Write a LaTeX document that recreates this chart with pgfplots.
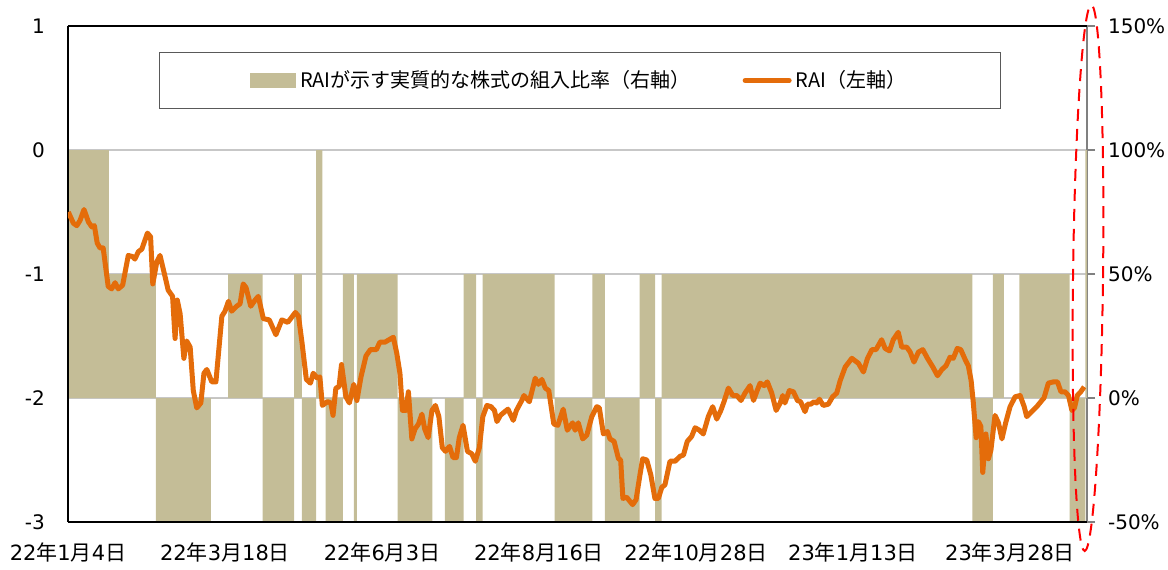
\documentclass[border=0pt]{standalone}
\usepackage{pgfplots}
\pgfplotsset{compat=1.18}
\usepackage{fontspec}
\setmainfont{DejaVu Sans}
\newfontfamily\cjk{Noto Sans CJK JP}
\definecolor{tanc}{RGB}{196,189,151}
\definecolor{rai}{RGB}{228,108,10}
\newcommand{\J}[1]{{\cjk #1}}
\begin{document}
\begin{tikzpicture}
% ---------- right axis: stock allocation (bars) ----------
\begin{axis}[
  scale only axis, width=509.5pt, height=248pt,
  xmin=0, xmax=324.5, ymin=-50, ymax=150,
  hide x axis,
  axis y line*=right,
  y axis line style={draw=black!50, line width=0.8pt},
  ytick={-50,0,50,100,150},
  yticklabels={-50\%,0\%,50\%,100\%,150\%},
  tick align=outside, major tick length=4pt,
  ytick style={draw=black!50, line width=0.8pt},
  ymajorgrids, grid style={draw=black!22, line width=1pt},
  yticklabel style={font=\fontsize{10}{12}\selectfont, xshift=3pt},
]
\addplot[const plot mark left, fill=tanc, draw=none] table[row sep=\\] {
x y\\
0 100\\ 13 50\\ 28 -50\\ 45.5 0\\ 51 50\\ 62 -50\\ 72 50\\ 74.5 -50\\
79 100\\ 81 0\\ 82 -50\\ 87.5 50\\ 91 -50\\ 92 50\\ 105 -50\\ 116 0\\
120 -50\\ 126 50\\ 130 -50\\ 132 50\\ 155 -50\\ 167 50\\ 171 -50\\ 182 50\\
187 -50\\ 189 50\\ 288 -50\\ 294.5 50\\ 298 0\\ 303 50\\ 319 -50\\ 324 100\\
324.5 100\\
} \closedcycle;
\end{axis}
% ---------- left axis: RAI (line) ----------
\begin{axis}[
  scale only axis, width=509.5pt, height=248pt,
  xmin=0, xmax=324.5, ymin=-3, ymax=1,
  axis x line*=box, axis y line*=left,
  axis line style={line width=1pt, black},
  xtick={0,50,100,150,200,250,300},
  xticklabels={22\J{年}1\J{月}4\J{日},22\J{年}3\J{月}18\J{日},22\J{年}6\J{月}3\J{日},22\J{年}8\J{月}16\J{日},22\J{年}10\J{月}28\J{日},23\J{年}1\J{月}13\J{日},23\J{年}3\J{月}28\J{日}},
  ytick={-3,-2,-1,0,1},
  yticklabels={-3,-2,-1,0,1},
  major tick length=0pt,
  xticklabel style={font=\fontsize{10.5}{12}\selectfont, yshift=-7pt},
  yticklabel style={font=\fontsize{10}{12}\selectfont, xshift=-8pt},
  legend columns=2,
  legend cell align=left,
  legend style={at={(rel axis cs:0.5025,0.89)}, anchor=center,
    draw=black!65, line width=0.6pt, inner xsep=45pt, inner ysep=7pt,
    font=\cjk\fontsize{10}{11}\selectfont,
    /tikz/every even column/.append style={column sep=24pt}},
]
\addlegendimage{legend image code/.code={\fill[tanc] (0pt,-3.5pt) rectangle (22.5pt,3.5pt);}}
\addlegendentry{RAIが示す実質的な株式の組入比率（右軸）}
\addplot[rai, line width=2.5pt, line join=round,
  legend image code/.code={\draw[rai, line width=2.5pt, line cap=round] (0pt,0pt) -- (22pt,0pt);}]
  table[row sep=\\] {
x y\\
0.1 -0.50\\ 1.7 -0.59\\ 2.8 -0.61\\ 3.8 -0.57\\ 5.1 -0.48\\ 6.5 -0.58\\ 7.6 -0.62\\ 8.4 -0.61\\
9.3 -0.75\\ 10.2 -0.79\\ 11.2 -0.79\\ 12.8 -1.10\\ 13.9 -1.12\\ 15.0 -1.07\\ 16.0 -1.12\\ 17.4 -1.09\\
19.2 -0.85\\ 20.6 -0.86\\ 21.3 -0.88\\ 22.4 -0.82\\ 23.5 -0.80\\ 25.3 -0.67\\ 26.3 -0.70\\ 27.0 -1.08\\
28.3 -0.90\\ 29.3 -0.85\\ 30.9 -1.02\\ 31.9 -1.13\\ 33.3 -1.18\\ 34.1 -1.52\\ 34.8 -1.21\\ 35.7 -1.32\\
36.9 -1.68\\ 37.8 -1.54\\ 38.9 -1.59\\ 39.9 -1.94\\ 41.0 -2.08\\ 42.3 -2.04\\ 43.3 -1.80\\ 44.2 -1.77\\
45.8 -1.87\\ 47.1 -1.87\\ 49.0 -1.34\\ 50.0 -1.30\\ 51.1 -1.22\\ 52.1 -1.30\\ 53.7 -1.26\\ 54.8 -1.24\\
55.8 -1.08\\ 56.7 -1.11\\ 58.2 -1.26\\ 59.6 -1.21\\ 60.6 -1.18\\ 62.2 -1.36\\ 64.1 -1.37\\ 66.2 -1.49\\
68.1 -1.37\\ 70.0 -1.39\\ 72.4 -1.31\\ 73.4 -1.34\\ 74.5 -1.55\\ 75.9 -1.85\\ 77.2 -1.88\\ 78.1 -1.80\\
79.4 -1.84\\ 80.2 -1.83\\ 81.0 -2.06\\ 82.6 -2.03\\ 83.7 -2.04\\ 84.4 -2.14\\ 85.3 -1.92\\ 86.3 -1.91\\
87.1 -1.73\\ 88.5 -1.99\\ 89.6 -2.04\\ 91.0 -1.89\\ 92.0 -2.02\\ 93.3 -1.83\\ 94.9 -1.66\\ 96.3 -1.61\\
98.2 -1.61\\ 99.3 -1.55\\ 100.9 -1.55\\ 103.6 -1.51\\ 104.7 -1.64\\ 105.7 -1.80\\ 106.5 -2.10\\ 107.6 -2.10\\
108.4 -1.95\\ 109.5 -2.33\\ 110.5 -2.25\\ 111.6 -2.21\\ 112.7 -2.13\\ 113.6 -2.25\\ 114.7 -2.32\\ 115.9 -2.10\\
117.0 -2.06\\ 118.1 -2.15\\ 119.2 -2.40\\ 120.2 -2.43\\ 121.5 -2.39\\ 122.6 -2.48\\ 123.7 -2.48\\ 124.6 -2.32\\
125.8 -2.22\\ 127.2 -2.43\\ 128.6 -2.45\\ 129.7 -2.51\\ 131.0 -2.40\\ 132.1 -2.15\\ 133.4 -2.06\\ 134.7 -2.07\\
135.8 -2.10\\ 136.6 -2.19\\ 137.7 -2.14\\ 139.1 -2.11\\ 140.1 -2.09\\ 141.8 -2.18\\ 142.8 -2.10\\ 144.5 -2.02\\
145.2 -1.98\\ 146.9 -2.03\\ 148.8 -1.84\\ 149.8 -1.89\\ 150.9 -1.85\\ 152.0 -1.92\\ 153.1 -1.94\\ 154.7 -2.21\\
156.0 -2.22\\ 157.7 -2.09\\ 159.0 -2.26\\ 160.7 -2.20\\ 161.5 -2.26\\ 162.5 -2.20\\ 163.9 -2.33\\ 165.2 -2.30\\
166.8 -2.15\\ 168.4 -2.07\\ 169.2 -2.08\\ 170.5 -2.29\\ 171.8 -2.27\\ 172.6 -2.33\\ 173.9 -2.35\\ 175.3 -2.49\\
176.0 -2.50\\ 176.7 -2.81\\ 177.9 -2.80\\ 179.8 -2.86\\ 180.9 -2.82\\ 182.2 -2.61\\ 183.0 -2.49\\ 184.3 -2.50\\
185.6 -2.62\\ 186.9 -2.81\\ 188.0 -2.81\\ 189.1 -2.72\\ 190.1 -2.70\\ 191.7 -2.51\\ 193.3 -2.51\\ 194.9 -2.47\\
196.0 -2.46\\ 197.2 -2.35\\ 198.6 -2.31\\ 199.7 -2.24\\ 201.1 -2.26\\ 202.3 -2.29\\ 203.9 -2.15\\ 205.3 -2.07\\
206.6 -2.17\\ 207.9 -2.10\\ 208.9 -2.03\\ 210.3 -1.92\\ 211.7 -1.98\\ 213.0 -1.98\\ 214.3 -2.02\\ 215.6 -1.96\\
217.2 -1.90\\ 218.3 -2.02\\ 219.3 -1.95\\ 220.4 -1.88\\ 221.7 -1.90\\ 222.7 -1.87\\ 224.1 -1.96\\ 225.5 -2.10\\
226.8 -2.04\\ 227.6 -1.98\\ 228.3 -2.04\\ 229.7 -1.94\\ 231.0 -1.95\\ 232.3 -2.02\\ 233.3 -2.03\\ 234.7 -2.11\\
235.5 -2.05\\ 236.5 -2.05\\ 237.6 -2.03\\ 238.4 -2.04\\ 239.3 -2.01\\ 240.5 -2.06\\ 242.1 -2.05\\ 243.5 -1.99\\
244.8 -1.96\\ 245.9 -1.86\\ 247.5 -1.75\\ 249.6 -1.68\\ 251.7 -1.72\\ 253.3 -1.79\\ 254.6 -1.68\\ 256.0 -1.61\\
257.3 -1.61\\ 259.1 -1.53\\ 260.2 -1.60\\ 261.6 -1.62\\ 262.8 -1.53\\ 264.4 -1.47\\ 265.5 -1.59\\ 267.1 -1.59\\
268.2 -1.63\\ 269.4 -1.71\\ 270.8 -1.63\\ 272.2 -1.61\\ 273.7 -1.68\\ 275.4 -1.75\\ 276.9 -1.82\\ 278.3 -1.77\\
279.6 -1.74\\ 280.9 -1.67\\ 281.9 -1.68\\ 283.2 -1.60\\ 284.3 -1.61\\ 285.7 -1.69\\ 286.7 -1.74\\ 287.6 -1.86\\
288.3 -2.04\\ 289.2 -2.32\\ 289.9 -2.19\\ 290.7 -2.23\\ 291.3 -2.60\\ 292.3 -2.29\\ 293.1 -2.49\\ 293.9 -2.42\\
295.2 -2.14\\ 296.3 -2.20\\ 297.4 -2.33\\ 298.6 -2.20\\ 300.0 -2.07\\ 301.6 -1.99\\ 303.2 -1.98\\ 304.5 -2.07\\
305.3 -2.15\\ 306.9 -2.11\\ 308.5 -2.07\\ 310.1 -2.02\\ 310.8 -2.00\\ 312.2 -1.88\\ 313.8 -1.87\\ 315.1 -1.87\\
316.2 -1.95\\ 317.5 -1.95\\ 318.6 -1.98\\ 319.7 -2.10\\ 320.5 -2.08\\ 321.4 -1.98\\ 322.5 -1.95\\ 323.6 -1.91\\
};
\addlegendentry{RAI（左軸）}
\end{axis}
% annotation: red dashed ellipse around the latest data
\draw[red, line width=1pt, dash pattern=on 6pt off 4pt, rotate around={-0.7:(510pt,122pt)}]
  (510pt,122pt) ellipse [x radius=7.5pt, y radius=136.5pt];
\pgfresetboundingbox
\path (-34pt,-23.5pt) rectangle (550pt,261pt);
\end{tikzpicture}
\end{document}
